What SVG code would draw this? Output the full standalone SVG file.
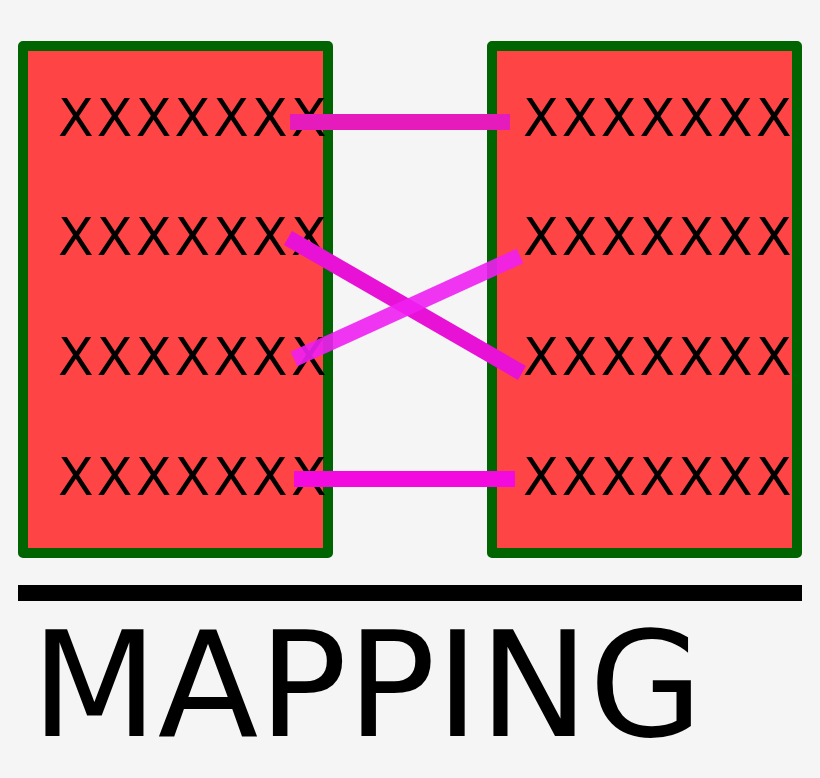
<svg xmlns="http://www.w3.org/2000/svg" width="820" height="778" viewBox="0 0 820 778">
<style>
.box{fill:#fe4444;stroke:#006400;stroke-width:10;stroke-linejoin:round}
.lbl{font-family:"DejaVu Sans",sans-serif;font-size:52px;letter-spacing:3.2px;fill:#000}
.ln{fill:none;stroke-width:16;stroke-linecap:butt}
</style>
<rect x="0" y="0" width="820" height="778" fill="#f5f5f5"/>
<g id="left-box">
<rect class="box" x="23" y="46" width="305" height="507"/>
<text class="lbl" x="58" y="136">XXXXXXX</text>
<text class="lbl" x="58" y="255">XXXXXXX</text>
<text class="lbl" x="58" y="375">XXXXXXX</text>
<text class="lbl" x="58" y="495">XXXXXXX</text>
</g>
<g id="right-box">
<rect class="box" x="492" y="46" width="305" height="507"/>
<text class="lbl" x="523" y="136">XXXXXXX</text>
<text class="lbl" x="523" y="255">XXXXXXX</text>
<text class="lbl" x="523" y="375">XXXXXXX</text>
<text class="lbl" x="523" y="495">XXXXXXX</text>
</g>
<g id="connectors">
<line class="ln" x1="290" y1="122" x2="510" y2="122" stroke="#e61bbc"/>
<line class="ln" x1="288" y1="238" x2="522" y2="373" stroke="#e812d6" stroke-width="15"/>
<line class="ln" x1="294" y1="359" x2="520" y2="256" stroke="#f020f2" stroke-width="15" opacity="0.9"/>
<line class="ln" x1="294" y1="479" x2="515" y2="479" stroke="#f20ade"/>
</g>
<g id="title">
<rect x="18" y="585" width="784" height="16" fill="#000"/>
<text x="31" y="736" font-family="DejaVu Sans, sans-serif" font-size="147px" fill="#000">MAPPING</text>
</g>
</svg>
